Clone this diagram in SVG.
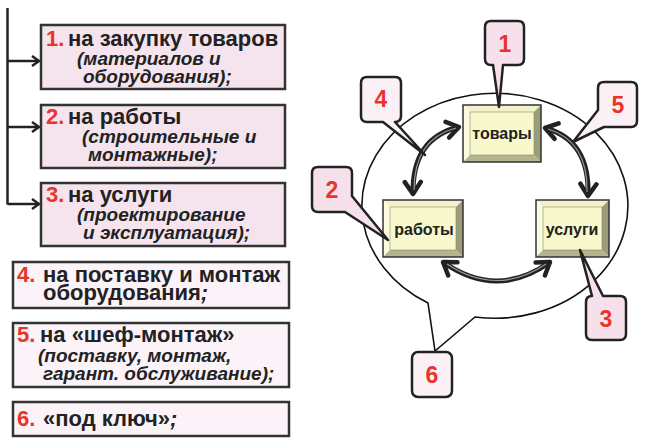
<svg xmlns="http://www.w3.org/2000/svg" width="658" height="441" viewBox="0 0 658 441">
<defs>
<style>
.lb{stroke:#333;stroke-width:2.5;}
.lb1{fill:#f5e4ee;}
.lb2{fill:#fbf3f8;}
.t{font-family:"Liberation Sans",Arial,sans-serif;font-weight:bold;fill:#222;}
.m{font-size:22px;}
.i{font-size:19px;font-style:italic;}
.red{fill:#e8352a;}
.co{stroke:#222;stroke-width:2.5;stroke-linejoin:round;}
.coA{fill:#f5e0ec;}
.coB{fill:#faf0f6;}
.num{font-family:"Liberation Sans",Arial,sans-serif;font-weight:bold;font-size:23px;fill:#e8352a;text-anchor:middle;}
.bt{font-family:"Liberation Sans",Arial,sans-serif;font-weight:bold;font-size:16px;fill:#222;text-anchor:middle;}
.outer{stroke:#333;stroke-width:1.5;fill:none;}
.ft{fill:#f2f2cc;}
.fl{fill:#fbfbe0;}
.fr{fill:#9c9c78;}
.fb{fill:#b4b48e;}
.fi{fill:#f8f8cc;stroke:#8a8a6a;stroke-width:0.6;}
.conn{fill:none;stroke:#222;stroke-width:2.5;}
.arc{fill:none;stroke:#222;stroke-width:5;}
.arcin{fill:none;stroke:#9a9a9a;stroke-width:1.2;}
</style>
<marker id="chev" markerUnits="userSpaceOnUse" markerWidth="30" markerHeight="30" refX="0" refY="0" viewBox="-15 -15 30 30" orient="auto-start-reverse">
<path d="M-12,-8 L0,0 L-12,8" fill="none" stroke="#222" stroke-width="4.5" stroke-linecap="round" stroke-linejoin="round"/>
</marker>
<marker id="lchev" markerUnits="userSpaceOnUse" markerWidth="20" markerHeight="20" refX="0" refY="0" viewBox="-10 -10 20 20" orient="auto">
<path d="M-7,-5 L0,0 L-7,5" fill="none" stroke="#222" stroke-width="2.5" stroke-linejoin="miter"/>
</marker>
</defs>
<rect width="658" height="441" fill="#fff"/>

<g id="connectors">
<path class="conn" d="M7.5,8 V204.5"/>
<path class="conn" d="M7.5,61 H39" marker-end="url(#lchev)"/>
<path class="conn" d="M7.5,127 H39" marker-end="url(#lchev)"/>
<path class="conn" d="M7.5,204 H39" marker-end="url(#lchev)"/>
</g>

<g id="box1">
<rect class="lb lb1" x="41" y="25" width="244" height="64"/>
<text class="t m" x="46" y="46"><tspan class="red">1.</tspan><tspan x="68">на закупку товаров</tspan></text>
<text class="t i" x="77" y="65">(материалов и</text>
<text class="t i" x="83" y="83">оборудования);</text>
</g>
<g id="box2">
<rect class="lb lb1" x="41" y="105" width="244" height="63"/>
<text class="t m" x="46" y="124"><tspan class="red">2.</tspan><tspan x="68">на работы</tspan></text>
<text class="t i" x="82" y="143">(строительные и</text>
<text class="t i" x="88" y="161">монтажные);</text>
</g>
<g id="box3">
<rect class="lb lb1" x="41" y="183" width="244" height="63"/>
<text class="t m" x="46" y="202"><tspan class="red">3.</tspan><tspan x="68">на услуги</tspan></text>
<text class="t i" x="77" y="221">(проектирование</text>
<text class="t i" x="83" y="239">и эксплуатация);</text>
</g>
<g id="box4">
<rect class="lb lb2" x="13" y="262" width="276" height="46"/>
<text class="t m" x="17" y="282"><tspan class="red">4.</tspan><tspan x="43">на поставку и монтаж</tspan></text>
<text class="t m" x="43" y="300">оборудования<tspan font-style="italic">;</tspan></text>
</g>
<g id="box5">
<rect class="lb lb2" x="13" y="323" width="276" height="64"/>
<text class="t m" x="17" y="342"><tspan class="red">5.</tspan><tspan x="40">на «шеф-монтаж»</tspan></text>
<text class="t i" x="38" y="362">(поставку, монтаж,</text>
<text class="t i" x="43" y="380">гарант. обслуживание);</text>
</g>
<g id="box6">
<rect class="lb lb2" x="13" y="402" width="276" height="34"/>
<text class="t m" x="17" y="426"><tspan class="red">6.</tspan><tspan x="43">«под ключ»</tspan><tspan font-style="italic">;</tspan></text>
</g>

<g id="bubble">
<path d="M428,303 A133,112.5 0 1 1 475,317 L435,351 Z" fill="#fff" stroke="#111" stroke-width="1.6" stroke-linejoin="miter"/>
</g>

<g id="tovary">
<polygon class="ft" points="463,105 541,105 534,112 470,112"/>
<polygon class="fl" points="463,105 470,112 470,155 463,162"/>
<polygon class="fr" points="541,105 541,162 534,155 534,112"/>
<polygon class="fb" points="463,162 470,155 534,155 541,162"/>
<rect class="fi" x="470" y="112" width="64" height="43"/>
<rect class="outer" x="463" y="105" width="78" height="57"/>
<text class="bt" x="502" y="139">товары</text>
</g>
<g id="raboty">
<polygon class="ft" points="383,200 463,200 456,207 390,207"/>
<polygon class="fl" points="383,200 390,207 390,250 383,257"/>
<polygon class="fr" points="463,200 463,257 456,250 456,207"/>
<polygon class="fb" points="383,257 390,250 456,250 463,257"/>
<rect class="fi" x="390" y="207" width="66" height="43"/>
<rect class="outer" x="383" y="200" width="80" height="57"/>
<text class="bt" x="424" y="235">работы</text>
</g>
<g id="uslugi">
<polygon class="ft" points="536,200 609,200 602,207 543,207"/>
<polygon class="fl" points="536,200 543,207 543,250 536,257"/>
<polygon class="fr" points="609,200 609,257 602,250 602,207"/>
<polygon class="fb" points="536,257 543,250 602,250 609,257"/>
<rect class="fi" x="543" y="207" width="59" height="43"/>
<rect class="outer" x="536" y="200" width="73" height="57"/>
<text class="bt" x="572" y="235">услуги</text>
</g>

<g id="arrows">
<path class="arc" d="M459,127 Q412,138 413,194" marker-start="url(#chev)" marker-end="url(#chev)"/>
<path class="arcin" d="M456,128 Q414,139 414,190"/>
<path class="arc" d="M545,128 Q590,140 588,196" marker-start="url(#chev)" marker-end="url(#chev)"/>
<path class="arcin" d="M548,129 Q588,141 587,192"/>
<path class="arc" d="M443,262 Q497,300 550,262" marker-start="url(#chev)" marker-end="url(#chev)"/>
<path class="arcin" d="M447,264 Q497,297 546,264"/>
</g>

<g id="callout1">
<path class="co coA" d="M491,21 H518 Q524,21 524,27 V59 Q524,65 518,65 H503 L499,107 L493,65 H491 Q485,65 485,59 V27 Q485,21 491,21 Z"/>
<text class="num" x="505" y="52">1</text>
</g>
<g id="callout4">
<path class="co coB" d="M367,77 H395 Q401,77 401,83 V116 Q401,122 395,122 L425,155 L383,122 H367 Q361,122 361,116 V83 Q361,77 367,77 Z"/>
<text class="num" x="381" y="107">4</text>
</g>
<g id="callout2">
<path class="co coA" d="M318,167 H346 Q352,167 352,173 V196 L388,240 L345,212 H318 Q312,212 312,206 V173 Q312,167 318,167 Z"/>
<text class="num" x="332" y="198">2</text>
</g>
<g id="callout5">
<path class="co coB" d="M604,82 H631 Q637,82 637,88 V121 Q637,127 631,127 H604 L573,142 L598,110 V88 Q598,82 604,82 Z"/>
<text class="num" x="618" y="113">5</text>
</g>
<g id="callout3">
<path class="co coA" d="M592,296 L580,250 L603,296 H620 Q626,296 626,302 V334 Q626,340 620,340 H592 Q586,340 586,334 V302 Q586,296 592,296 Z"/>
<text class="num" x="606" y="327">3</text>
</g>
<g id="callout6">
<rect class="co coB" x="412" y="352" width="40" height="45" rx="6"/>
<text class="num" x="432" y="383">6</text>
</g>
</svg>
